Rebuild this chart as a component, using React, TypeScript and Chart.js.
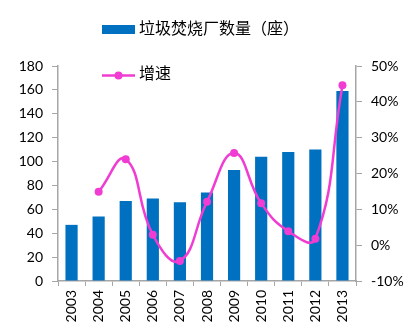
import React, { useEffect, useRef } from "react";
import { Chart, registerables } from "chart.js";

Chart.register(...registerables);

const years = ["2003", "2004", "2005", "2006", "2007", "2008", "2009", "2010", "2011", "2012", "2013"];
const plantCounts = [47, 54, 67, 69, 66, 74, 93, 104, 108, 110, 159];
const growthRates = [null, 14.9, 24.0, 2.9, -4.4, 12.1, 25.7, 11.7, 3.9, 1.8, 44.6];
const barLabel = "垃圾焚烧厂数量（座）";
const lineLabel = "增速";

const BAR_COLOR = "#0070C0";
const LINE_COLOR = "#F03CD2";
const AXIS_COLOR = "#A6A6A6";
const TICK_FONT = { family: "Lato, 'Liberation Sans', sans-serif", size: 14 };
const CJK_FONT = "16px 'Noto Sans CJK SC', sans-serif";

const legendPlugin = {
  id: "customLegend",
  afterDraw(chart: any) {
    const ctx = chart.ctx;
    ctx.save();
    // bar legend
    ctx.fillStyle = BAR_COLOR;
    ctx.fillRect(102, 25, 33, 9);
    ctx.fillStyle = "#000";
    ctx.font = CJK_FONT;
    ctx.textBaseline = "middle";
    ctx.textAlign = "left";
    ctx.fillText(barLabel, 139, 28);
    // line legend
    ctx.strokeStyle = LINE_COLOR;
    ctx.lineWidth = 2.5;
    ctx.beginPath();
    ctx.moveTo(102, 75.5);
    ctx.lineTo(135, 75.5);
    ctx.stroke();
    ctx.fillStyle = LINE_COLOR;
    ctx.beginPath();
    ctx.arc(118.5, 75.5, 4, 0, Math.PI * 2);
    ctx.fill();
    ctx.fillStyle = "#000";
    ctx.fillText(lineLabel, 139, 73);
    ctx.restore();
  },
};

export default function App() {
  const ref = useRef<HTMLCanvasElement | null>(null);
  useEffect(() => {
    if (!ref.current) return;
    const chart = new Chart(ref.current, {
      data: {
        labels: years,
        datasets: [
          {
            type: "line",
            label: lineLabel,
            data: growthRates as any,
            yAxisID: "y1",
            borderColor: LINE_COLOR,
            backgroundColor: LINE_COLOR,
            borderWidth: 2.5,
            pointRadius: 4,
            pointBackgroundColor: LINE_COLOR,
            pointBorderWidth: 0,
            tension: 0.45,
            order: 0,
          },
          {
            type: "bar",
            label: barLabel,
            data: plantCounts,
            yAxisID: "y",
            backgroundColor: BAR_COLOR,
            barPercentage: 0.45,
            categoryPercentage: 1,
            order: 1,
          },
        ],
      } as any,
      options: {
        animation: false,
        responsive: false,
        maintainAspectRatio: false,
        layout: { padding: { top: 66, left: 0, right: 0, bottom: 0 } },
        plugins: { legend: { display: false }, tooltip: { enabled: false } },
        scales: {
          x: {
            offset: true,
            grid: {
              offset: true,
              drawOnChartArea: false,
              color: AXIS_COLOR,
              tickLength: 5,
            },
            border: { color: AXIS_COLOR, width: 1.5 },
            ticks: {
              color: "#000",
              font: TICK_FONT,
              maxRotation: 90,
              minRotation: 90,
              padding: 4,
            },
            afterFit(scale: any) {
              scale.height = 53;
            },
          },
          y: {
            position: "left",
            min: 0,
            max: 180,
            ticks: { stepSize: 20, color: "#000", font: TICK_FONT, padding: 9 },
            grid: { drawOnChartArea: false, color: AXIS_COLOR, tickLength: 6 },
            border: { color: AXIS_COLOR, width: 1.5 },
            afterFit(scale: any) {
              scale.width = 58;
            },
          },
          y1: {
            position: "right",
            min: -10,
            max: 50,
            ticks: {
              stepSize: 10,
              color: "#000",
              font: TICK_FONT,
              padding: 9,
              callback: (v: any) => v + "%",
            },
            grid: { drawOnChartArea: false, color: AXIS_COLOR, tickLength: 6 },
            border: { color: AXIS_COLOR, width: 1.5 },
            afterFit(scale: any) {
              scale.width = 64;
            },
          },
        },
      } as any,
      plugins: [legendPlugin],
    });
    return () => chart.destroy();
  }, []);
  return (
    <div style={{ position: "fixed", left: 0, top: 0, width: 420, height: 334, background: "#fff" }}>
      <canvas ref={ref} width={420} height={334} style={{ width: 420, height: 334 }} />
    </div>
  );
}
